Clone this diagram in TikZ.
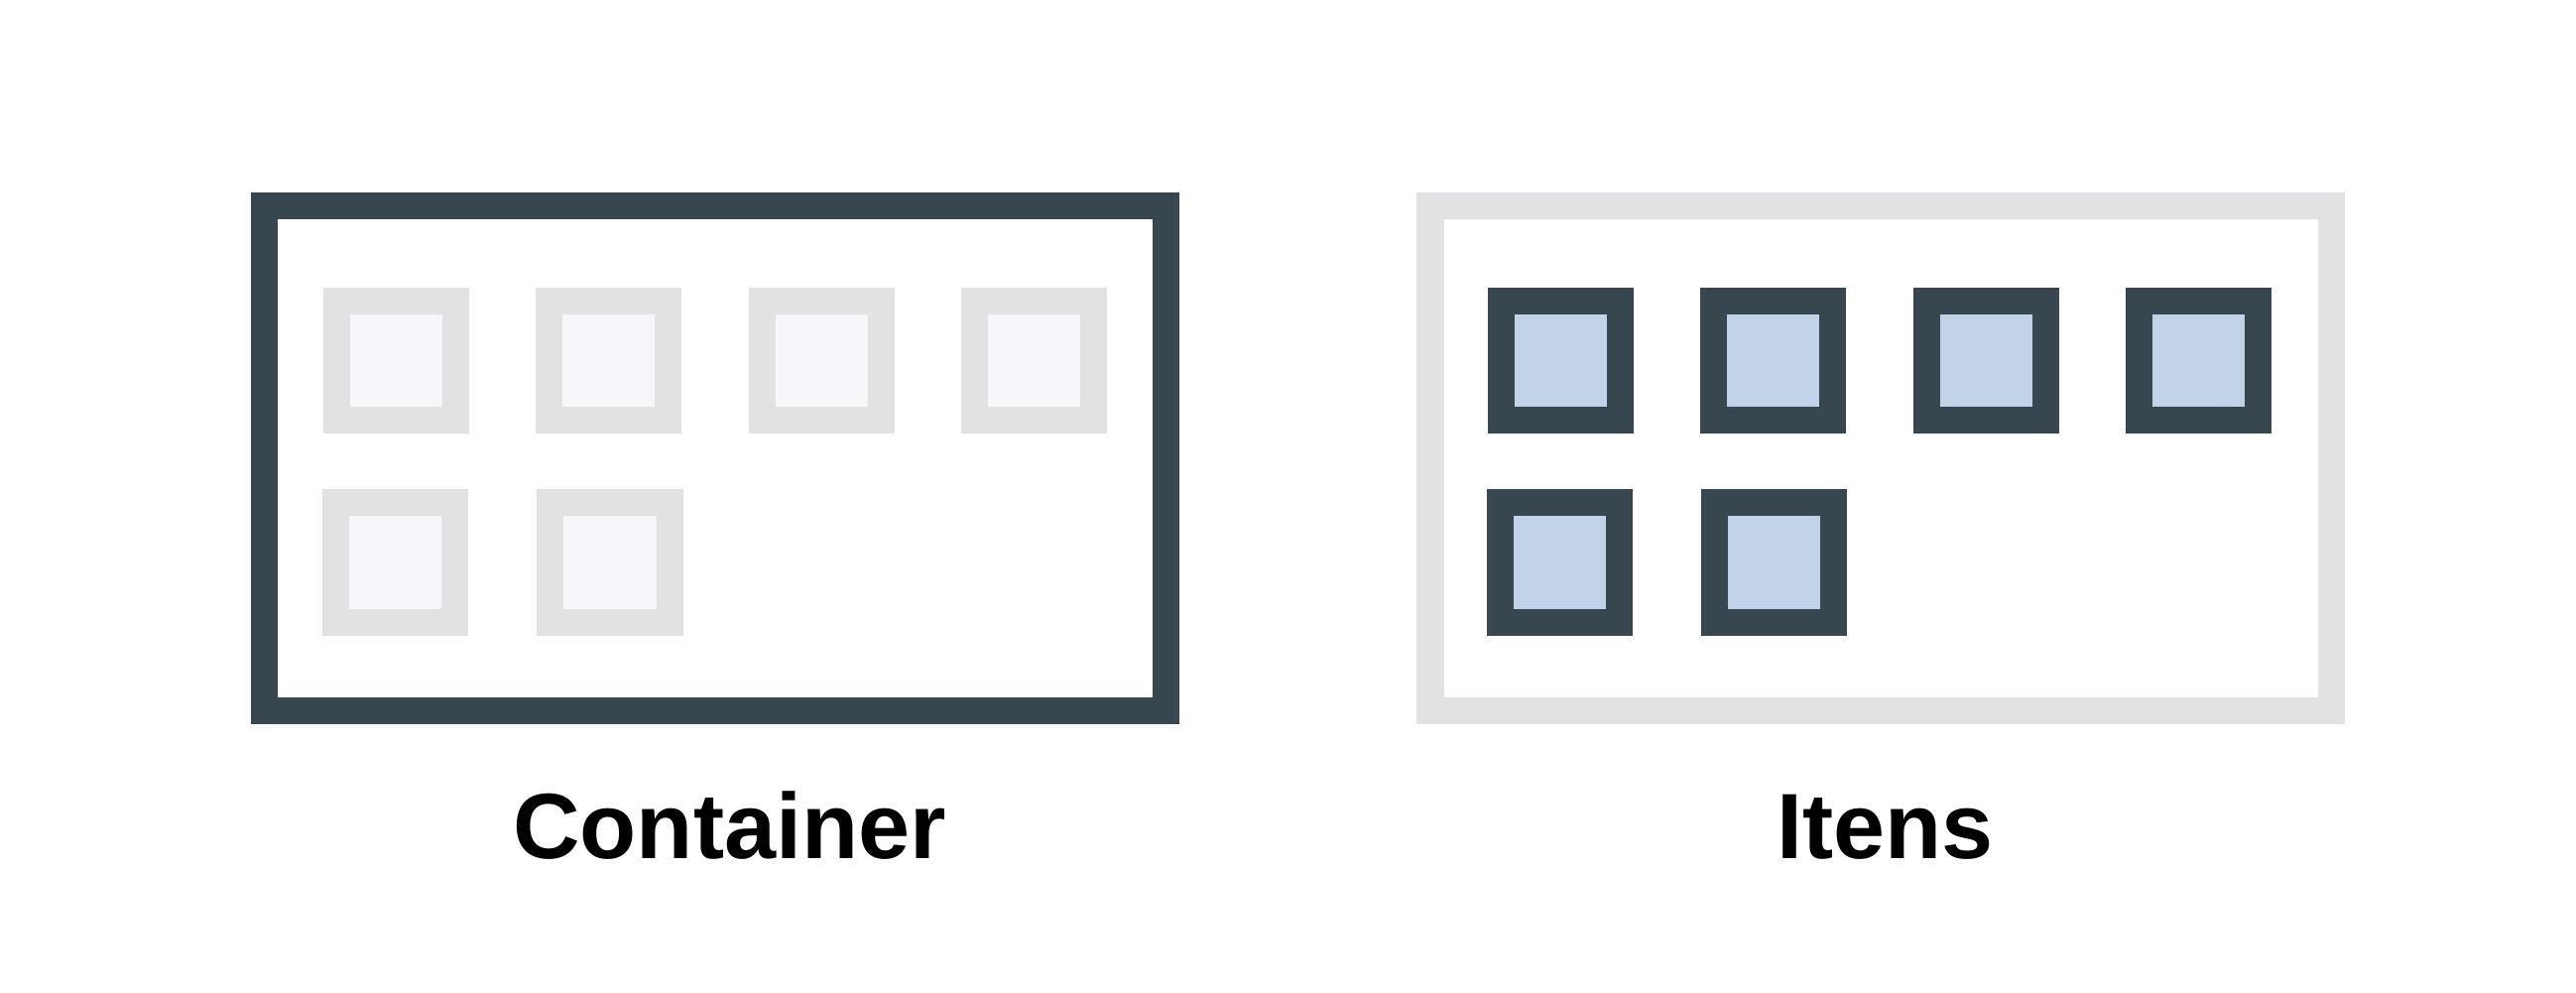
\documentclass[tikz,border=0pt]{standalone}
\usepackage{fontspec}
\setmainfont{Liberation Sans}
\definecolor{darkslate}{HTML}{37464F}
\definecolor{lightgrey}{HTML}{E1E2E3}
\definecolor{paleitem}{HTML}{F5F7FA}
\definecolor{blueitem}{HTML}{C2D3E7}
\begin{document}
\begin{tikzpicture}[x=0.01cm,y=-0.01cm,
  box/.style={rectangle, inner sep=0pt, outer sep=0pt, line width=0.27cm},
  frame/.style={box, minimum width=9.08cm, minimum height=5.085cm},
  item/.style={box, minimum width=1.2cm, minimum height=1.2cm},
  paleitembox/.style={item, draw=lightgrey, fill=paleitem},
  blueitembox/.style={item, draw=darkslate, fill=blueitem},
  caption/.style={anchor=base, font=\bfseries\fontsize{26.6}{30}\selectfont}]
\useasboundingbox (0,0) rectangle (2597,1000);
% containers
\node[frame, draw=darkslate] (contL) at (721,461.75) {};
\node[frame, draw=lightgrey] (contR) at (1896.25,461.75) {};
% left items
\node[paleitembox] (l1) at (399.5,363.5) {};
\node[paleitembox] (l2) at (613.9,363.5) {};
\node[paleitembox] (l3) at (828.3,363.5) {};
\node[paleitembox] (l4) at (1042.7,363.5) {};
\node[paleitembox] (l5) at (398.8,567) {};
\node[paleitembox] (l6) at (615,567) {};
% right items
\node[blueitembox] (r1) at (1573.5,363.5) {};
\node[blueitembox] (r2) at (1787.9,363.5) {};
\node[blueitembox] (r3) at (2002.3,363.5) {};
\node[blueitembox] (r4) at (2216.7,363.5) {};
\node[blueitembox] (r5) at (1572.5,567) {};
\node[blueitembox] (r6) at (1788.5,567) {};
% captions
\node[caption] (capL) at (735.5,865) {Container};
\node[caption] (capR) at (1900.5,865) {Itens};
\end{tikzpicture}
\end{document}
